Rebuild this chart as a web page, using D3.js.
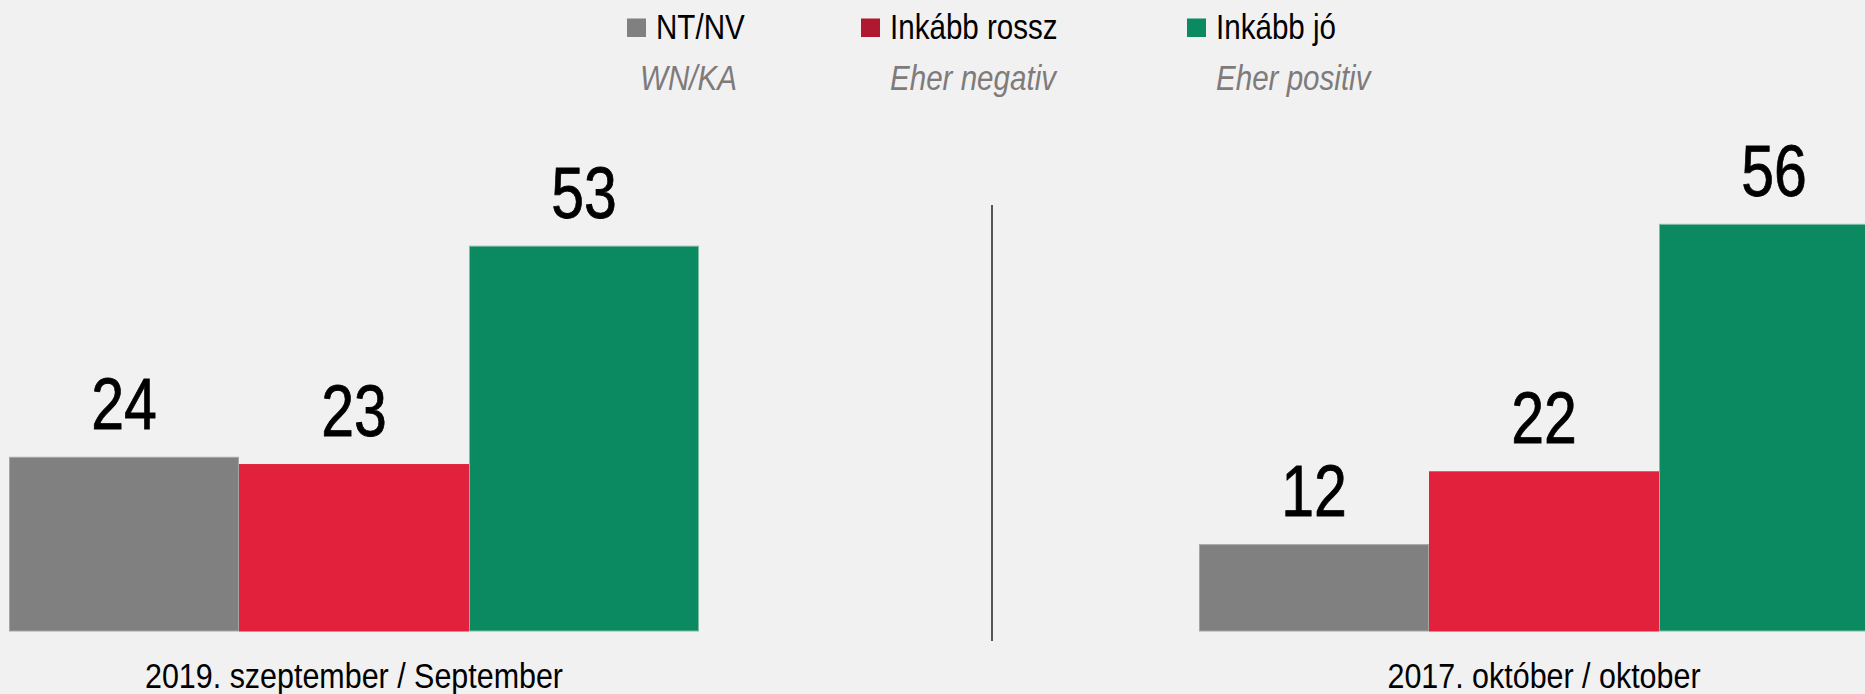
<!DOCTYPE html>
<html><head><meta charset="utf-8">
<script src="https://cdn.jsdelivr.net/npm/d3@7"></script>
<style>
body{margin:0;background:#f1f1f1;}
svg{display:block}
text{font-family:"Liberation Sans",Arial,sans-serif;}
</style>
</head><body><svg id="chart" width="1865" height="694"></svg>
<script>
// ---- data ----
const periods = ["2019. szeptember / September", "2017. október / oktober"];
const seriesNames = ["NT/NV", "Inkább rossz", "Inkább jó"];
const seriesSubtitles = ["WN/KA", "Eher negativ", "Eher positiv"];
const ntnv = [24, 12];
const rossz = [23, 22];
const jo = [53, 56];

// ---- styles / layout ----
const barColors = ["#808080", "#E2213C", "#0B8A62"];
const barEdges = ["#a6a6a6", "#E2213C", "#7fbba5"];
const swatchColors = ["#808080", "#B01830", "#0B8A62"];
const W = 1865, H = 694;
const legendX = [627, 861, 1187];
const subtitleShift = [-16, 0, 0];
const narrowVal = 0.82, narrowCat = 0.87, narrowLeg = 0.845;

const seriesValues = [ntnv, rossz, jo];
const svg = d3.select("#chart");
svg.append("rect").attr("width", W).attr("height", H).attr("fill", "#f1f1f1");

const x0 = d3.scaleBand().domain(periods).range([9, 1889]).paddingInner(500 / 1190).paddingOuter(0);
const x1 = d3.scaleBand().domain(seriesNames).range([0, x0.bandwidth()]).padding(0);
const y = d3.scaleLinear().domain([0, 60]).range([631.5, 194.7]);

const rows = [];
periods.forEach((p, i) => seriesNames.forEach((s, j) => rows.push({p, s, j, v: seriesValues[j][i]})));

const g = svg.append("g");
g.selectAll("rect.bar").data(rows).join("rect")
  .attr("class", "bar")
  .attr("x", d => x0(d.p) + x1(d.s) + 0.5)
  .attr("y", d => y(d.v) + 0.5)
  .attr("width", x1.bandwidth() - 1)
  .attr("height", d => y(0) - y(d.v) - 1)
  .attr("fill", d => barColors[d.j])
  .attr("stroke", d => barEdges[d.j])
  .attr("stroke-width", 1);

g.selectAll("text.val").data(rows).join("text")
  .attr("class", "val")
  .attr("transform", d => `translate(${x0(d.p) + x1(d.s) + x1.bandwidth() / 2},${y(d.v) - 28}) scale(${narrowVal},1)`)
  .attr("text-anchor", "middle")
  .attr("font-size", 72)
  .attr("fill", "#000")
  .attr("stroke", "#000")
  .attr("stroke-width", 0.8)
  .text(d => d.v);

// category labels
g.selectAll("text.cat").data(periods).join("text")
  .attr("class", "cat")
  .attr("transform", d => `translate(${x0(d) + x0.bandwidth() / 2},688) scale(${narrowCat},1)`)
  .attr("text-anchor", "middle")
  .attr("font-size", 35)
  .attr("fill", "#000")
  .text(d => d);

// divider
svg.append("line").attr("x1", 992).attr("x2", 992).attr("y1", 205).attr("y2", 641)
  .attr("stroke", "#000").attr("stroke-width", 1.3);

// legend
const lg = svg.append("g").selectAll("g").data(seriesNames).join("g")
  .attr("transform", (d, i) => `translate(${legendX[i]},0)`);
lg.append("rect").attr("x", 0).attr("y", 18.5).attr("width", 19).attr("height", 18.5)
  .attr("fill", (d, i) => swatchColors[i]);
lg.append("text").attr("transform", `translate(29,39.3) scale(${narrowLeg},1)`)
  .attr("font-size", 35).attr("fill", "#000").text(d => d);
lg.append("text").attr("transform", (d, i) => `translate(${29 + subtitleShift[i]},90) scale(${narrowLeg},1)`)
  .attr("font-size", 35).attr("font-style", "italic").attr("fill", "#7f7b7b")
  .text((d, i) => seriesSubtitles[i]);
</script>
</body></html>
